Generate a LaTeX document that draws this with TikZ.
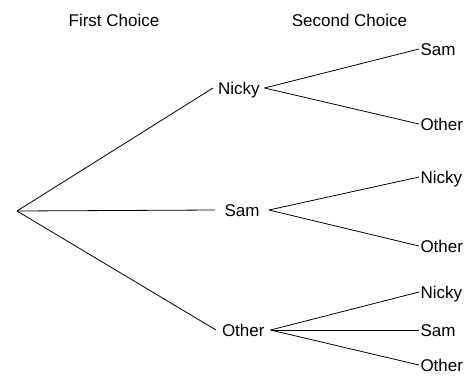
\documentclass[tikz,border=0pt]{standalone}
\usepackage{fontspec}
\setmainfont{Liberation Sans}
\begin{document}
\begin{tikzpicture}[x=1pt,y=-1pt,
  lbl/.style={font=\fontsize{17}{20}\selectfont, inner sep=0pt, text height=12.2pt, text depth=0pt, anchor=west},
  first/.style={lbl, outer xsep=#1},
  second/.style={lbl, outer xsep=1.5pt},
  head/.style={font=\fontsize{17}{20}\selectfont, inner sep=0pt},
  br/.style={draw=black, line width=0.8pt}]
\useasboundingbox (0,0) rectangle (466,376);
\node[head] (h1) at (114,20) {First Choice};
\node[head] (h2) at (349.5,20) {Second Choice};
\coordinate (root) at (17,211);
\node[first=5pt] (n1) at (213,88) {Nicky};
\node[first=9.5pt] (s1) at (215,210) {Sam};
\node[first=6pt] (o1) at (216,330) {Other};
\node[second] (n1s) at (419,49) {Sam};
\node[second] (n1o) at (419,124) {Other};
\node[second] (s1n) at (419,177) {Nicky};
\node[second] (s1o) at (419,246) {Other};
\node[second] (o1n) at (419,292) {Nicky};
\node[second] (o1s) at (419,330) {Sam};
\node[second] (o1o) at (419,365) {Other};
\draw[br] (root) -- (n1.west);
\draw[br] (root) -- (s1.west);
\draw[br] (root) -- (o1.west);
\draw[br] (n1.east) -- (n1s.west);
\draw[br] (n1.east) -- (n1o.west);
\draw[br] (s1.east) -- (s1n.west);
\draw[br] (s1.east) -- (s1o.west);
\draw[br] (o1.east) -- (o1n.west);
\draw[br] (o1.east) -- (o1s.west);
\draw[br] (o1.east) -- (o1o.west);
\end{tikzpicture}
\end{document}
